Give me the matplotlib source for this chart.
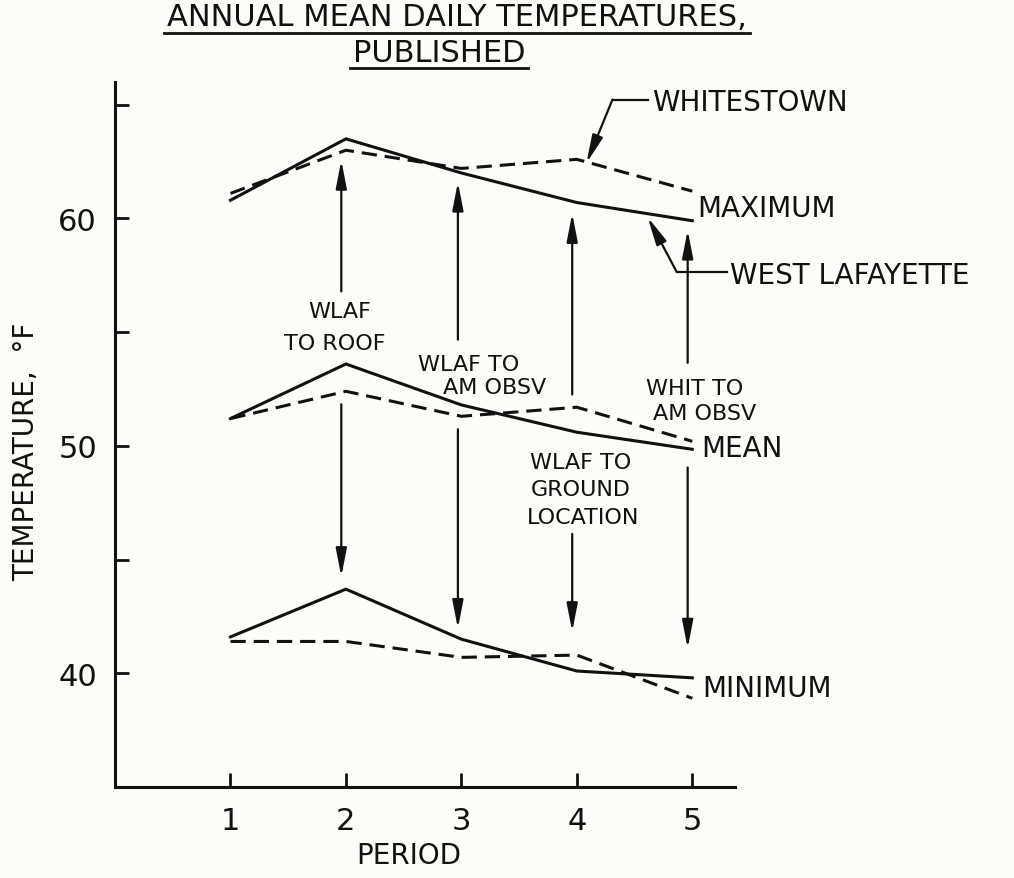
import matplotlib
matplotlib.use("Agg")
import matplotlib.pyplot as plt
from matplotlib.lines import Line2D

# data (deg F)
periods = [1, 2, 3, 4, 5]
max_wlaf = [60.8, 63.5, 62.0, 60.7, 59.9]
max_whit = [61.1, 63.0, 62.2, 62.6, 61.2]
mean_wlaf = [51.2, 53.6, 51.8, 50.6, 49.85]
mean_whit = [51.2, 52.4, 51.3, 51.7, 50.2]
min_wlaf = [41.6, 43.7, 41.5, 40.1, 39.8]
min_whit = [41.4, 41.4, 40.7, 40.8, 38.9]

# vertical comparison arrows: x, top tip, upper break, lower break, bottom tip
arrow_x = [1.96, 2.97, 3.96, 4.96]
arrow_top = [62.56, 61.6, 60.22, 59.49]
arrow_brk_hi = [56.79, 54.67, 52.26, 53.65]
arrow_brk_lo = [51.83, 50.73, 46.13, 49.05]
arrow_bot = [44.25, 41.97, 41.83, 41.1]

yticks = [40, 45, 50, 55, 60, 65]
ytick_labels = ['40', '', '50', '', '60', '']
xtick_labels = ['1', '2', '3', '4', '5']

ink = '#111111'
bg = '#fcfcf8'

fig = plt.figure(figsize=(10.14, 8.79), dpi=100, facecolor=bg)
ax = fig.add_axes([115 / 1014, 91 / 879, 620 / 1014, 705 / 879])
ax.set_facecolor(bg)

lw = 2.2
dash = (0, (5, 2.6))
for solid, dashed in [(max_wlaf, max_whit), (mean_wlaf, mean_whit), (min_wlaf, min_whit)]:
    ax.plot(periods, solid, color=ink, lw=lw, solid_joinstyle='miter')
    ax.plot(periods, dashed, color=ink, lw=lw, linestyle=dash)

ax.set_xlim(0, 5.37)
ax.set_ylim(35, 66)
ax.spines['top'].set_visible(False)
ax.spines['right'].set_visible(False)
for s in ['left', 'bottom']:
    ax.spines[s].set_linewidth(2.2)
    ax.spines[s].set_color(ink)

ax.set_xticks(periods)
ax.set_xticklabels(xtick_labels)
ax.set_yticks(yticks)
ax.set_yticklabels(ytick_labels)
ax.tick_params(direction='in', length=10, width=2, colors=ink, labelsize=22)
ax.tick_params(axis='y', pad=13)
ax.tick_params(axis='x', pad=14)

ax.text(-0.1435, 0.477, 'TEMPERATURE,  °F', rotation=90, ha='center', va='center',
        fontsize=20, color=ink, transform=ax.transAxes)
ax.text(0.473, -0.0965, 'PERIOD', ha='center', va='center', fontsize=20,
        color=ink, transform=ax.transAxes)

# arrows
head = '-|>,head_length=1.7,head_width=0.33'
aprops = dict(arrowstyle=head, mutation_scale=10, lw=1.6, color=ink,
              shrinkA=0, shrinkB=0)
for x, t, bh, bl, b in zip(arrow_x, arrow_top, arrow_brk_hi, arrow_brk_lo, arrow_bot):
    ax.annotate('', xy=(x, t), xytext=(x, bh), arrowprops=aprops)
    ax.annotate('', xy=(x, b), xytext=(x, bl), arrowprops=aprops)

arrow_texts = [('WLAF', 1.95, 55.91), ('TO ROOF', 1.906, 54.53),
               ('WLAF TO', 3.065, 53.62), ('AM OBSV', 3.288, 52.59),
               ('WLAF TO', 4.03, 49.27), ('GROUND', 4.037, 48.10),
               ('LOCATION', 4.05, 46.86),
               ('WHIT TO', 5.022, 52.56), ('AM OBSV', 5.109, 51.43)]
for s, x, y in arrow_texts:
    ax.text(x, y, s, ha='center', va='center', fontsize=16, color=ink)

# curve labels
ax.text(5.039, 60.48, 'MAXIMUM', ha='left', va='center', fontsize=20, color=ink)
ax.text(5.08, 49.9, 'MEAN', ha='left', va='center', fontsize=20, color=ink)
ax.text(5.09, 39.34, 'MINIMUM', ha='left', va='center', fontsize=20, color=ink)

# station leaders
ax.text(4.648, 65.1, 'WHITESTOWN', ha='left', va='center', fontsize=20, color=ink)
ax.plot([4.613, 4.309], [65.23, 65.23], color=ink, lw=1.6, clip_on=False)
ax.annotate('', xy=(4.083, 62.43), xytext=(4.309, 65.23), arrowprops=aprops,
            annotation_clip=False)
ax.text(5.326, 57.52, 'WEST LAFAYETTE', ha='left', va='center', fontsize=20, color=ink)
ax.plot([5.30, 4.865], [57.65, 57.65], color=ink, lw=1.6, clip_on=False)
ax.annotate('', xy=(4.613, 60.06), xytext=(4.865, 57.65), arrowprops=aprops,
            annotation_clip=False)

# underlined title
t1 = fig.text(457 / 1014, 1 - 18 / 879, 'ANNUAL MEAN DAILY TEMPERATURES,',
              ha='center', va='center', fontsize=22, color=ink)
t2 = fig.text(439 / 1014, 1 - 54 / 879, 'PUBLISHED', ha='center', va='center',
              fontsize=22, color=ink)
fig.canvas.draw()
r = fig.canvas.get_renderer()
H = fig.bbox.height
for t, ypx in [(t1, 34), (t2, 69)]:
    bb = t.get_window_extent(r)
    fig.add_artist(Line2D([bb.x0 - 3, bb.x1 + 3], [H - ypx, H - ypx],
                          transform=None, color=ink, lw=2))

fig.savefig('out.png', dpi=100, facecolor=bg)
